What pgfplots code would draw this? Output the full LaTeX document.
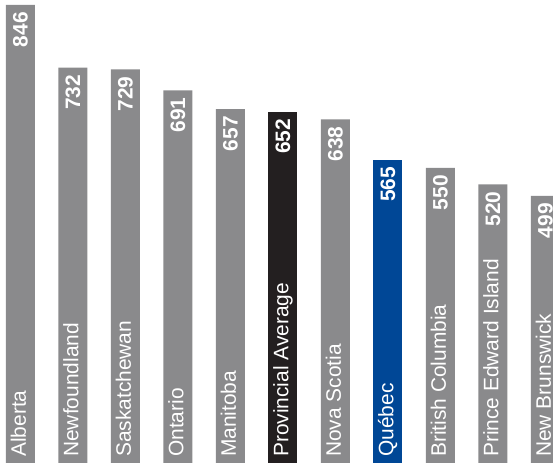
\documentclass[border=0pt]{standalone}
\usepackage{pgfplots}
\pgfplotsset{compat=1.18}
\usepackage{fontspec}
\setmainfont{Liberation Sans}

\definecolor{bargray}{RGB}{138,138,140}
\definecolor{avgblack}{RGB}{35,31,32}
\definecolor{qcblue}{RGB}{0,71,150}

\begin{document}
\begin{tikzpicture}
\path[use as bounding box] (0,0) rectangle (553bp,463bp);
\clip (0,0) rectangle (553bp,463bp);
\begin{axis}[
	at={(0,0)}, anchor=south west,
	scale only axis, width=553bp, height=463bp,
	xmin=-0.39, xmax=10.143, ymin=14, ymax=855,
	axis lines=none,
	bar width=29bp,
	/pgf/number format/assume math mode=true,
	valnode/.style={
		nodes near coords,
		nodes near coords style={font=\fontsize{21}{24}\selectfont\bfseries,
			color=white, rotate=90, anchor=east, inner xsep=7bp, inner ysep=0pt}},
]
	% provinces
	\addplot[ybar, bar shift=0pt, fill=bargray, draw=none, valnode] coordinates {
		(0,846) (1,732) (2,729) (3,691) (4,657)
		(6,638) (8,550) (9,520) (10,499)
	};
	% provincial average
	\addplot[ybar, bar shift=0pt, fill=avgblack, draw=none, valnode] coordinates {
		(5,652)
	};
	% Quebec
	\addplot[ybar, bar shift=0pt, fill=qcblue, draw=none, valnode] coordinates {
		(7,565)
	};
	% names along the bottom of the bars
	\addplot[only marks, mark=none, point meta=explicit symbolic,
		nodes near coords,
		nodes near coords style={font=\fontsize{21}{24}\selectfont,
			color=white, rotate=90, anchor=west, inner xsep=6bp, inner ysep=0pt,
			text height=15bp, text depth=4bp}] coordinates {
		(0,14) [Alberta]
		(1,14) [Newfoundland]
		(2,14) [Saskatchewan]
		(3,14) [Ontario]
		(4,14) [Manitoba]
		(5,14) [Provincial Average]
		(6,14) [Nova Scotia]
		(7,14) [Québec]
		(8,14) [British Columbia]
		(9,14) [Prince Edward Island]
		(10,14) [New Brunswick]
	};
\end{axis}
\end{tikzpicture}
\end{document}
